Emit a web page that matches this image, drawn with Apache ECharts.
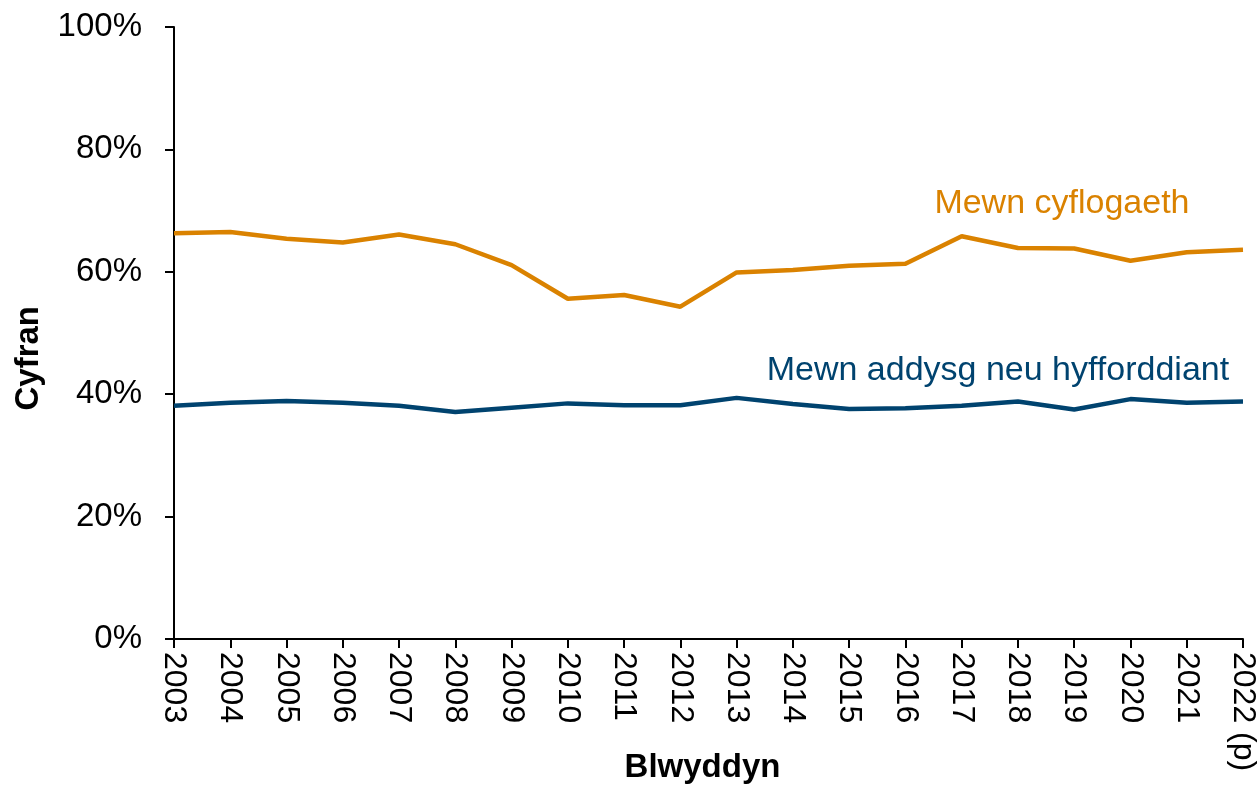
<!DOCTYPE html>
<html>
<head>
<meta charset="utf-8">
<script src="https://cdn.jsdelivr.net/npm/echarts@6/dist/echarts.min.js"></script>
<style>
  html, body { margin: 0; padding: 0; background: #fff; }
  #chart { width: 1257px; height: 787px; }
</style>
</head>
<body>
<div id="chart"></div>
<script>
const years = ['2003', '2004', '2005', '2006', '2007', '2008', '2009', '2010', '2011', '2012',
  '2013', '2014', '2015', '2016', '2017', '2018', '2019', '2020', '2021', '2022 (p)'];
// Mewn cyflogaeth (%)
const employment = [66.3, 66.5, 65.4, 64.8, 66.1, 64.5, 61.1, 55.6, 56.2, 54.3,
  59.9, 60.3, 61.0, 61.3, 65.8, 63.9, 63.8, 61.8, 63.2, 63.6];
// Mewn addysg neu hyfforddiant (%)
const education = [38.1, 38.6, 38.9, 38.6, 38.1, 37.1, 37.8, 38.5, 38.2, 38.2,
  39.4, 38.4, 37.6, 37.7, 38.1, 38.8, 37.5, 39.2, 38.6, 38.8];

const orange = '#DA8200';
const blue = '#00436F';
const font = 'Liberation Sans, Arial, sans-serif';

// label placed at a data coordinate, without a visible symbol
const seriesLabel = (text, coord, offsetX, color) => ({
  symbol: 'circle',
  symbolSize: 1,
  itemStyle: { color: 'rgba(0,0,0,0)' },
  data: [{ coord: coord, value: text }],
  label: { show: true, position: 'inside', offset: [offsetX, 0], formatter: text, color: color, fontSize: 34, fontFamily: font }
});

const chart = echarts.init(document.getElementById('chart'));
chart.setOption({
  animation: false,
  textStyle: { fontFamily: font },
  grid: { left: 174, right: 14, top: 27, bottom: 148, containLabel: false, outerBoundsMode: 'none' },
  xAxis: {
    type: 'category',
    data: years,
    boundaryGap: false,
    name: 'Blwyddyn',
    nameLocation: 'middle',
    nameGap: 112,
    nameMoveOverlap: false,
    nameTextStyle: { fontSize: 33, fontWeight: 'bold', color: '#000', fontFamily: font, padding: [0, 12, 0, 0] },
    axisLine: { lineStyle: { color: '#000', width: 2 } },
    axisTick: { show: true, alignWithLabel: true, length: 9, lineStyle: { color: '#000', width: 2 } },
    axisLabel: { rotate: -90, margin: 13, fontSize: 32, color: '#000', interval: 0, fontFamily: font, hideOverlap: false }
  },
  yAxis: {
    type: 'value',
    min: 0,
    max: 100,
    interval: 20,
    axisLine: { show: true, lineStyle: { color: '#000', width: 2 } },
    axisTick: { show: true, length: 9, lineStyle: { color: '#000', width: 2 } },
    splitLine: { show: false },
    axisLabel: { formatter: '{value}%', margin: 32, fontSize: 33, color: '#000', fontFamily: font }
  },
  graphic: [
    {
      type: 'text',
      left: 12,
      top: 306,
      rotation: Math.PI / 2,
      style: { text: 'Cyfran', fontSize: 33, fontWeight: 'bold', fill: '#000', fontFamily: font }
    }
  ],
  series: [
    {
      name: 'Mewn cyflogaeth',
      type: 'line',
      data: employment,
      symbol: 'none',
      lineStyle: { color: orange, width: 4.5 },
      markPoint: seriesLabel('Mewn cyflogaeth', ['2018', 71.2], 44, orange)
    },
    {
      name: 'Mewn addysg neu hyfforddiant',
      type: 'line',
      data: education,
      symbol: 'none',
      lineStyle: { color: blue, width: 4.5 },
      markPoint: seriesLabel('Mewn addysg neu hyfforddiant', ['2018', 43.9], -20, blue)
    }
  ]
});
</script>
</body>
</html>
